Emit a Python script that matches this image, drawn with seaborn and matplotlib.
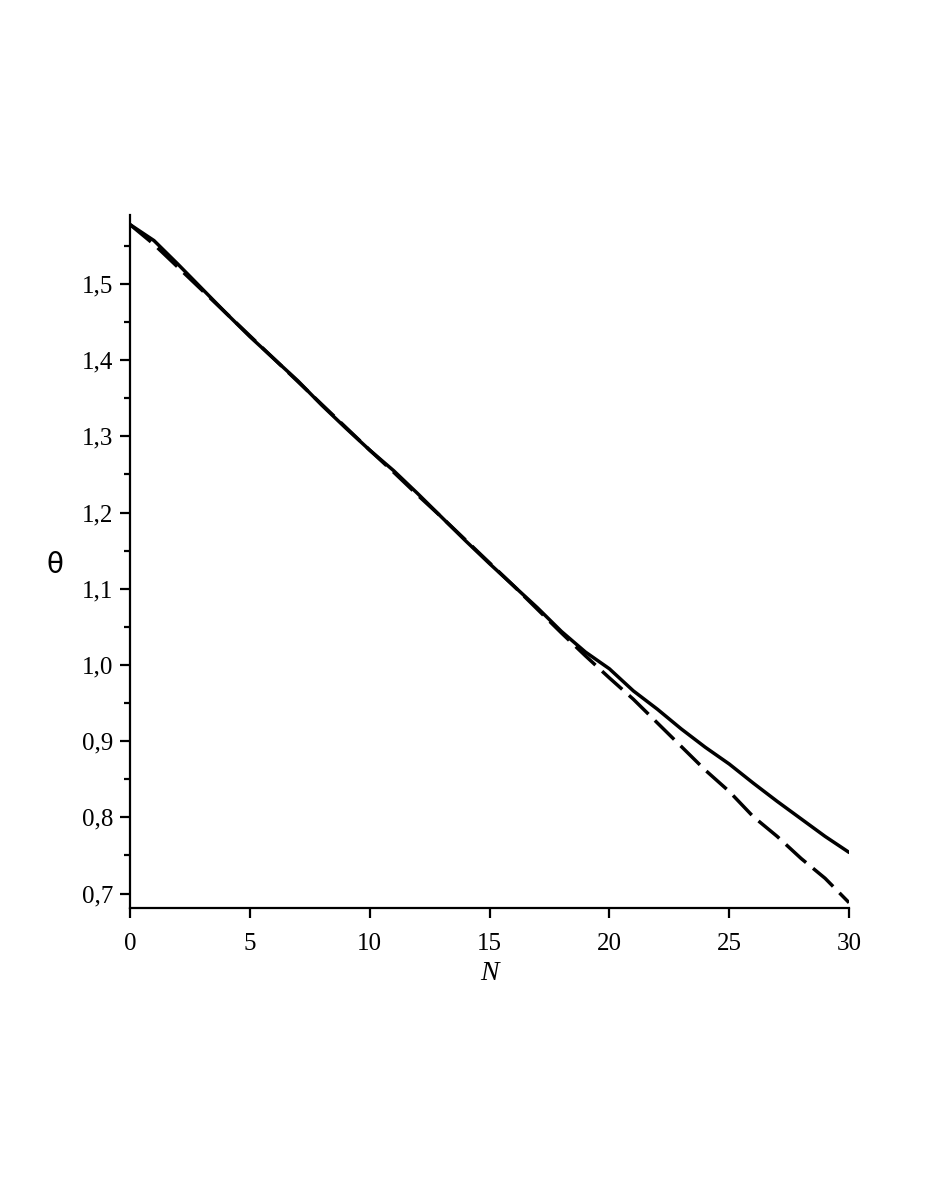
import numpy as np
import pandas as pd
import matplotlib
matplotlib.use("Agg")
import matplotlib.pyplot as plt
from matplotlib.ticker import MultipleLocator, FuncFormatter
import seaborn as sns

N = list(range(0, 31))
theta_solid = [1.578, 1.557, 1.526, 1.494, 1.462, 1.431, 1.402, 1.373, 1.341, 1.311,
               1.282, 1.255, 1.225, 1.194, 1.163, 1.133, 1.104, 1.075, 1.044, 1.017,
               0.995, 0.966, 0.942, 0.916, 0.892, 0.870, 0.845, 0.821, 0.798, 0.775,
               0.754]
theta_dashed = [1.578, 1.552, 1.522, 1.492, 1.462, 1.432, 1.402, 1.372, 1.342, 1.312,
                1.282, 1.253, 1.223, 1.194, 1.164, 1.134, 1.104, 1.073, 1.042, 1.012,
                0.983, 0.955, 0.924, 0.893, 0.862, 0.834, 0.801, 0.775, 0.746, 0.720,
                0.688]
y_ticks = [0.7, 0.8, 0.9, 1.0, 1.1, 1.2, 1.3, 1.4, 1.5]
x_ticks = [0, 5, 10, 15, 20, 25, 30]

sns.set_style("ticks")
plt.rcParams['font.family'] = ['Liberation Serif', 'DejaVu Serif']
plt.rcParams['text.color'] = 'black'
plt.rcParams['axes.labelcolor'] = 'black'

fig = plt.figure(figsize=(9.26, 11.99), dpi=100)
ax = fig.add_axes([0.1404, 0.2427, 0.7765, 0.578])

df_s = pd.DataFrame({"N": N, "theta": theta_solid})
df_d = pd.DataFrame({"N": N, "theta": theta_dashed})
sns.lineplot(data=df_d, x="N", y="theta", ax=ax, color="black", lw=2.5,
             linestyle=(0, (7.8, 2.6)))
sns.lineplot(data=df_s, x="N", y="theta", ax=ax, color="black", lw=2.5)

ax.set_xlim(0, 30)
ax.set_ylim(0.681, 1.5906)
ax.set_xticks(x_ticks)
ax.set_yticks(y_ticks)
ax.yaxis.set_minor_locator(MultipleLocator(0.05))
ax.yaxis.set_major_formatter(FuncFormatter(lambda v, p: f"{v:.1f}".replace(".", ",")))
ax.xaxis.set_major_formatter(FuncFormatter(lambda v, p: f"{int(round(v))}"))

for s in ["top", "right"]:
    ax.spines[s].set_visible(False)
for s in ["left", "bottom"]:
    ax.spines[s].set_linewidth(1.6)
    ax.spines[s].set_color("black")

ax.tick_params(axis="both", which="major", direction="out", length=7, width=1.6,
               labelsize=18, colors="black", pad=5)
ax.tick_params(axis="x", which="major", pad=11)
ax.tick_params(axis="y", which="minor", direction="out", length=4.5, width=1.6, colors="black")

ax.set_xlabel("N", fontsize=20, style="italic", labelpad=4, color="black")
ax.set_ylabel("")
fig.text(55 / 926, 1 - 565 / 1199, "θ", fontsize=20, family="DejaVu Sans",
         ha="center", va="center", color="black")

fig.savefig("out.png", dpi=100, facecolor="white")
